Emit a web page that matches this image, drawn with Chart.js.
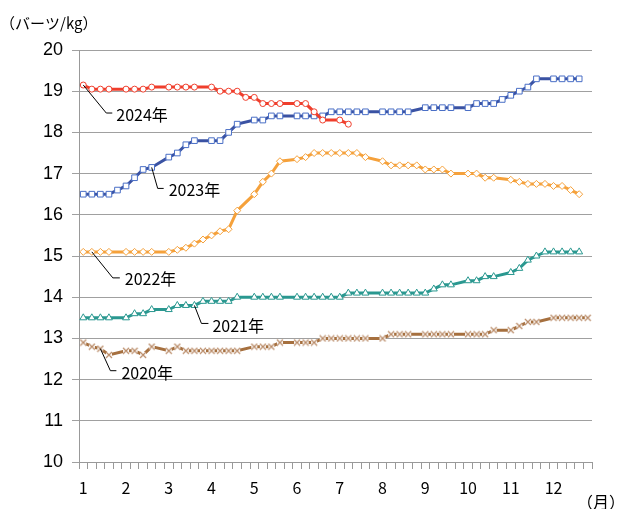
<!DOCTYPE html>
<html>
<head>
<meta charset="utf-8">
<script src="https://cdn.jsdelivr.net/npm/chart.js@4"></script>
<style>
  body { margin: 0; background: #fff; }
  #wrap { width: 619px; height: 509px; }
</style>
</head>
<body>
<div id="wrap"><canvas id="priceChart" width="619" height="509"></canvas></div>
<script>
// --- DATA (5 slots per month, null = no price that slot) ---
const monthLabels = ['1','','','','', '2','','','','', '3','','','','', '4','','','','',
                     '5','','','','', '6','','','','', '7','','','','', '8','','','','',
                     '9','','','','', '10','','','','', '11','','','','', '12','','','',''];

const yearNames = ['2024年', '2023年', '2022年', '2021年', '2020年'];

const price2024 = [19.15, 19.05, 19.05, 19.05, null, 19.05, 19.05, 19.05, 19.1, null,
                   19.1, 19.1, 19.1, 19.1, null, 19.1, 19.0, 19.0, 19.0, 18.85,
                   18.85, 18.7, 18.7, 18.7, null, 18.7, 18.7, 18.5, 18.3, null,
                   18.3, 18.2];

const price2023 = [16.5, 16.5, 16.5, 16.5, 16.6, 16.7, 16.9, 17.1, 17.15, null,
                   17.4, 17.5, 17.7, 17.8, null, 17.8, 17.8, 18.0, 18.2, null,
                   18.3, 18.3, 18.4, 18.4, null, 18.4, 18.4, 18.4, 18.4, 18.5,
                   18.5, 18.5, 18.5, 18.5, null, 18.5, 18.5, 18.5, 18.5, null,
                   18.6, 18.6, 18.6, 18.6, null, 18.6, 18.7, 18.7, 18.7, 18.8,
                   18.9, 19.0, 19.1, 19.3, null, 19.3, 19.3, 19.3, 19.3, null];

const price2022 = [15.1, 15.1, 15.1, 15.1, null, 15.1, 15.1, 15.1, 15.1, null,
                   15.1, 15.15, 15.2, 15.3, 15.4, 15.5, 15.6, 15.65, 16.1, null,
                   16.5, 16.8, 17.0, 17.3, null, 17.35, 17.4, 17.5, 17.5, 17.5,
                   17.5, 17.5, 17.5, 17.4, null, 17.3, 17.2, 17.2, 17.2, 17.2,
                   17.1, 17.1, 17.1, 17.0, null, 17.0, 17.0, 16.9, 16.9, null,
                   16.85, 16.8, 16.75, 16.75, 16.75, 16.7, 16.7, 16.6, 16.5, null];

const price2021 = [13.5, 13.5, 13.5, 13.5, null, 13.5, 13.6, 13.6, 13.7, null,
                   13.7, 13.8, 13.8, 13.8, 13.9, 13.9, 13.9, 13.9, 14.0, null,
                   14.0, 14.0, 14.0, 14.0, null, 14.0, 14.0, 14.0, 14.0, 14.0,
                   14.0, 14.1, 14.1, 14.1, null, 14.1, 14.1, 14.1, 14.1, 14.1,
                   14.1, 14.2, 14.3, 14.3, null, 14.4, 14.4, 14.5, 14.5, null,
                   14.6, 14.7, 14.9, 15.0, 15.1, 15.1, 15.1, 15.1, 15.1, null];

const price2020 = [12.9, 12.8, 12.75, 12.6, null, 12.7, 12.7, 12.6, 12.8, null,
                   12.7, 12.8, 12.7, 12.7, 12.7, 12.7, 12.7, 12.7, 12.7, null,
                   12.8, 12.8, 12.8, 12.9, null, 12.9, 12.9, 12.9, 13.0, 13.0,
                   13.0, 13.0, 13.0, 13.0, null, 13.0, 13.1, 13.1, 13.1, null,
                   13.1, 13.1, 13.1, 13.1, null, 13.1, 13.1, 13.1, 13.2, null,
                   13.2, 13.3, 13.4, 13.4, null, 13.5, 13.5, 13.5, 13.5, 13.5];

// leader-line callouts: dataset index, anchor slot, pixel offsets from the anchor
const callouts = [
    { ds: 0, slot: 0,  dx: 23, dy: 28, hx: 29, tx: 33, ty: 30 },
    { ds: 1, slot: 8,  dx: 6,  dy: 21, hx: 12, tx: 17, ty: 23 },
    { ds: 2, slot: 1,  dx: 21, dy: 26, hx: 28, tx: 33, ty: 27 },
    { ds: 3, slot: 13, dx: 7,  dy: 18, hx: 14, tx: 18, ty: 20 },
    { ds: 4, slot: 2,  dx: 10, dy: 22, hx: 16, tx: 21, ty: 24 }
];

const jpFont = '"Noto Sans CJK JP", "Noto Sans", sans-serif';

// Excel-like "x" marker: small white patch with a light brown cross on it
function crossMarker(color) {
    const c = document.createElement('canvas');
    c.width = 8; c.height = 8;
    const g = c.getContext('2d');
    g.fillStyle = '#fff';
    g.fillRect(1, 1, 6, 6);
    g.strokeStyle = color;
    g.lineWidth = 1.2;
    g.beginPath();
    g.moveTo(1, 1); g.lineTo(7, 7);
    g.moveTo(7, 1); g.lineTo(1, 7);
    g.stroke();
    return c;
}

function makeSeries(label, data, lineColor, markColor, style, radius) {
    return {
        label: label,
        data: data,
        borderColor: lineColor,
        borderWidth: 3,
        pointStyle: style,
        pointRadius: radius,
        pointBorderWidth: 1,
        pointBorderColor: markColor,
        pointBackgroundColor: '#fff',
        spanGaps: true,
        tension: 0
    };
}

const calloutPlugin = {
    id: 'callouts',
    afterDatasetsDraw(chart) {
        const ctx = chart.ctx;
        const xs = chart.scales.x, ys = chart.scales.y;
        ctx.save();
        ctx.strokeStyle = '#000';
        ctx.lineWidth = 1;
        ctx.fillStyle = '#000';
        ctx.font = '16px ' + jpFont;
        ctx.textBaseline = 'middle';
        callouts.forEach(c => {
            const v = chart.data.datasets[c.ds].data[c.slot];
            const px = xs.getPixelForValue(c.slot);
            const py = ys.getPixelForValue(v);
            ctx.beginPath();
            ctx.moveTo(px, py);
            ctx.lineTo(px + c.dx, py + c.dy);
            ctx.lineTo(px + c.hx, py + c.dy);
            ctx.stroke();
            ctx.fillText(yearNames[c.ds], px + c.tx, py + c.ty);
        });
        // unit labels
        ctx.font = '15px ' + jpFont;
        ctx.fillText('（バーツ/kg）', 0, 23);
        ctx.font = '16px ' + jpFont;
        ctx.fillText('（月）', 577, 502);
        ctx.restore();
    }
};

window.priceChart = new Chart(document.getElementById('priceChart'), {
    type: 'line',
    data: {
        labels: monthLabels,
        datasets: [
            makeSeries(yearNames[0], price2024, '#ef3e2c', '#f0402e', 'circle', 3),
            makeSeries(yearNames[1], price2023, '#3a52a3', '#4a6fc6', 'rect', 4),
            makeSeries(yearNames[2], price2022, '#f5a13b', '#f5a13b', 'rectRot', 3.5),
            makeSeries(yearNames[3], price2021, '#2a9890', '#2a9890', 'triangle', 4),
            makeSeries(yearNames[4], price2020, '#a6703f', '#b98a66', crossMarker('#b98a66'), 3)
        ]
    },
    options: {
        responsive: false,
        animation: false,
        layout: { padding: { top: 50, right: 27, left: 0, bottom: 0 } },
        plugins: { legend: { display: false }, tooltip: { enabled: false } },
        scales: {
            x: {
                type: 'category',
                offset: true,
                afterFit: s => { s.height = 47; },
                grid: { offset: true, drawOnChartArea: false, drawTicks: true, tickLength: 7, color: '#999' },
                border: { display: true, color: '#999' },
                ticks: { autoSkip: false, maxRotation: 0, padding: 9, color: '#000',
                         font: { family: jpFont, size: 16 } }
            },
            y: {
                min: 10,
                max: 20,
                afterFit: s => { s.width = 79; },
                grid: { color: '#a0a0a0', tickLength: 7 },
                border: { display: true, color: '#999' },
                ticks: { stepSize: 1, padding: 9, color: '#000',
                         font: { family: '"Liberation Sans", Arial, sans-serif', size: 18 } }
            }
        }
    },
    plugins: [calloutPlugin]
});
</script>
</body>
</html>
